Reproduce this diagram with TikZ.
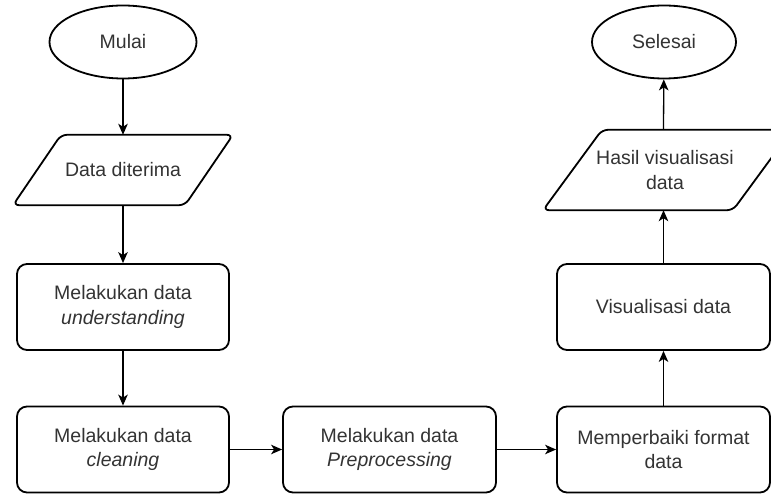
\documentclass[tikz,border=0pt]{standalone}
\usepackage{fontspec}
\setmainfont{Liberation Sans}
\usetikzlibrary{shapes.geometric,arrows.meta}
\definecolor{txt}{HTML}{333333}
\tikzset{
  x=1bp, y=-1bp,
  every node/.style={font=\fontsize{19.5bp}{24.5bp}\selectfont, text=txt, align=center},
  terminal/.style={ellipse, draw, line width=1.8bp, minimum width=147bp, minimum height=73bp, inner sep=0pt},
  procbox/.style={rectangle, draw, rounded corners=10bp, line width=1.8bp, minimum width=212bp, minimum height=86bp, inner sep=0pt},
  iobox/.style={rectangle, inner sep=0pt},
  ioshape/.style={draw, line width=1.8bp, rounded corners=6bp},
  flow/.style={line width=1.3bp, -{Stealth[length=11bp,width=9.5bp,inset=3bp]}}
}
\begin{document}
\begin{tikzpicture}
\useasboundingbox (0,0) rectangle (771,495);
\clip (0,0) rectangle (771,495);

% left column
\node[terminal] (start) at (123,42) {Mulai};
\node[iobox, minimum width=172bp, minimum height=70bp] (input) at (123,170) {Data diterima};
\draw[ioshape] ([xshift=-62bp]input.north) -- ([xshift=110bp]input.north)
  -- ([xshift=62bp]input.south) -- ([xshift=-110bp]input.south) -- cycle;
\node[procbox] (underst) at (123,307) {Melakukan data\\\textit{understanding}};
\node[procbox] (clean) at (123,449.5) {Melakukan data\\\textit{cleaning}};

% middle
\node[procbox, minimum width=213bp] (prep) at (389.5,449.5) {Melakukan data\\\textit{Preprocessing}};

% right column
\node[procbox, minimum width=213bp] (format) at (663.5,449.5) {Memperbaiki format\\data};
\node[procbox, minimum width=213bp] (visual) at (663.5,307) {Visualisasi data};
\node[iobox, minimum width=190bp, minimum height=80bp] (output) at (665,170) {Hasil visualisasi\\data};
\draw[ioshape] ([xshift=-63bp]output.north) -- ([xshift=127bp]output.north)
  -- ([xshift=68bp]output.south) -- ([xshift=-122bp]output.south) -- cycle;
\node[terminal, minimum width=144bp] (stop) at (664,42) {Selesai};

% connectors
\draw[flow] (start) -- (input);
\draw[flow] (input) -- (underst);
\draw[flow] (underst) -- (clean);
\draw[flow] (clean) -- (prep);
\draw[flow] (prep) -- (format);
\draw[flow] (format.north -| visual) -- (visual);
\draw[flow] (visual.north) -- (visual.north |- output.south);
\draw[flow] (output.north -| visual) -- (stop);
\end{tikzpicture}
\end{document}
